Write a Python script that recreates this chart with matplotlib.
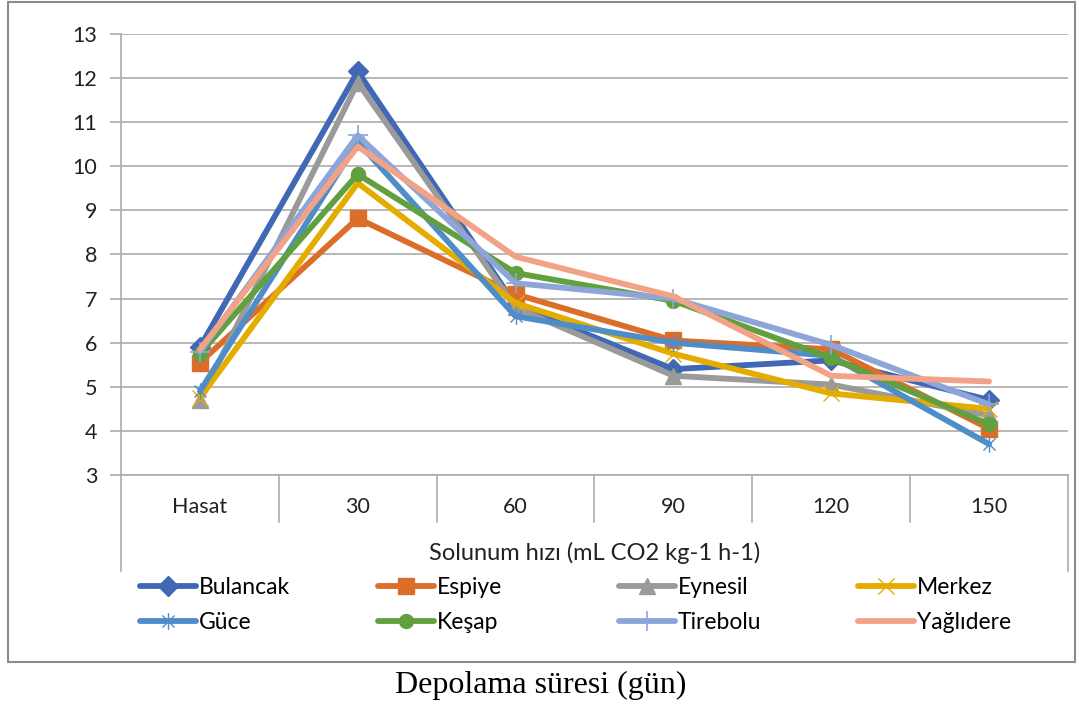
import matplotlib
matplotlib.use("Agg")
import matplotlib.pyplot as plt
from matplotlib.path import Path
from matplotlib.patches import Rectangle

# Storage periods (category axis) and respiration rates per location
categories = ["Hasat", "30", "60", "90", "120", "150"]
bulancak  = [5.90, 12.15, 6.85, 5.40, 5.60, 4.70]
espiye    = [5.55, 8.82, 7.10, 6.05, 5.85, 4.05]
eynesil   = [4.70, 11.90, 6.80, 5.25, 5.05, 4.35]
merkez    = [4.75, 9.62, 6.90, 5.75, 4.85, 4.50]
guce      = [4.90, 10.55, 6.60, 6.00, 5.70, 3.70]
kesap     = [5.75, 9.82, 7.58, 6.95, 5.65, 4.15]
tirebolu  = [5.80, 10.70, 7.35, 7.00, 5.95, 4.60]
yaglidere = [5.85, 10.45, 7.95, 7.05, 5.25, 5.12]

series_names = ["Bulancak", "Espiye", "Eynesil", "Merkez",
                "Güce", "Keşap", "Tirebolu", "Yağlıdere"]
y_ticks = [3, 4, 5, 6, 7, 8, 9, 10, 11, 12, 13]
x_title = "Solunum hızı (mL CO2 kg-1 h-1)"
caption = "Depolama süresi (gün)"

# asterisk marker: vertical bar plus an X
star = Path([(0, -1), (0, 1), (-0.72, -0.72), (0.72, 0.72), (-0.72, 0.72), (0.72, -0.72)],
            [Path.MOVETO, Path.LINETO] * 3)

styles = [
    dict(color="#4068B4", marker="D", ms=10),
    dict(color="#DB6F2A", marker="s", ms=11),
    dict(color="#9A9A9A", marker="^", ms=11),
    dict(color="#E5AC00", marker="x", ms=11, mew=1.0),
    dict(color="#4E8DC8", marker=star, ms=12, mew=1.0),
    dict(color="#62A03F", marker="o", ms=10),
    dict(color="#8EA5DA", marker="+", ms=15, mew=1.2),
    dict(color="#F2A387", marker=None),
]
data = [bulancak, espiye, eynesil, merkez, guce, kesap, tirebolu, yaglidere]

font = "Lato"
fs_tick = 15.5
fs_leg = 16.5
fs_title = 17
txt_c = "#222222"
W, H = 1083, 704
fig = plt.figure(figsize=(W / 100, H / 100), dpi=100)

ax = fig.add_axes([121 / W, 1 - 475 / H, (1068 - 121) / W, (475 - 34) / H])
ax.set_xlim(-0.5, 5.5)
ax.set_ylim(3, 13)

grid_c = "#ABABAB"
ax.set_yticks(y_ticks)
ax.set_yticklabels([str(t) for t in y_ticks], fontsize=fs_tick, family=font, color=txt_c)
ax.yaxis.grid(True, color=grid_c, lw=1.2)
ax.set_axisbelow(True)
ax.tick_params(axis="y", length=8, width=1.2, color=grid_c, pad=9)
ax.set_xticks([])
for s in ["top", "right"]:
    ax.spines[s].set_visible(False)
for s in ["left", "bottom"]:
    ax.spines[s].set_color(grid_c)
    ax.spines[s].set_linewidth(1.2)

handles = []
x = list(range(len(categories)))
for name, vals, st in zip(series_names, data, styles):
    (ln,) = ax.plot(x, vals, lw=4.2, label=name, solid_capstyle="round",
                    solid_joinstyle="round", **st)
    handles.append(ln)

# category table lines below the axis
tr = ax.get_xaxis_transform()
ah = 475 - 34
for i in range(1, len(categories)):
    ax.plot([i - 0.5, i - 0.5], [0, -47 / ah], color=grid_c, lw=1.2,
            transform=tr, clip_on=False)
for xe in (-0.5, len(categories) - 0.5):
    ax.plot([xe, xe], [0, -96 / ah], color=grid_c, lw=1.2,
            transform=tr, clip_on=False)
for i, c in enumerate(categories):
    ax.text(i, -32 / ah, c, transform=tr, ha="center", va="center",
            fontsize=fs_tick, family=font, color=txt_c)
ax.text(2.5, -78 / ah, x_title, transform=tr, ha="center", va="center",
        fontsize=fs_title, family=font, color=txt_c)

# legend: four columns of two entries each
col_x = [140, 378, 619, 858]
for c in range(4):
    hs = [handles[c], handles[c + 4]]
    fig.legend(hs, [h.get_label() for h in hs], loc="upper left",
               bbox_to_anchor=(col_x[c] / W, 1 - 577 / H),
               frameon=False, borderpad=0, borderaxespad=0,
               handlelength=2.45, handletextpad=0.12, labelspacing=0.62,
               numpoints=1, prop={"family": font, "size": fs_leg})

# outer frame
fig.patches.append(Rectangle((8 / W, 1 - 662 / H), (1075 - 8) / W, (662 - 2) / H,
                             transform=fig.transFigure, fill=False,
                             edgecolor="#8C8C8C", lw=1.5))

fig.text(541 / W, 1 - 685 / H, caption, ha="center", va="center",
         fontsize=23, family="Liberation Serif", color="#000000")

fig.savefig("out.png", dpi=100)
